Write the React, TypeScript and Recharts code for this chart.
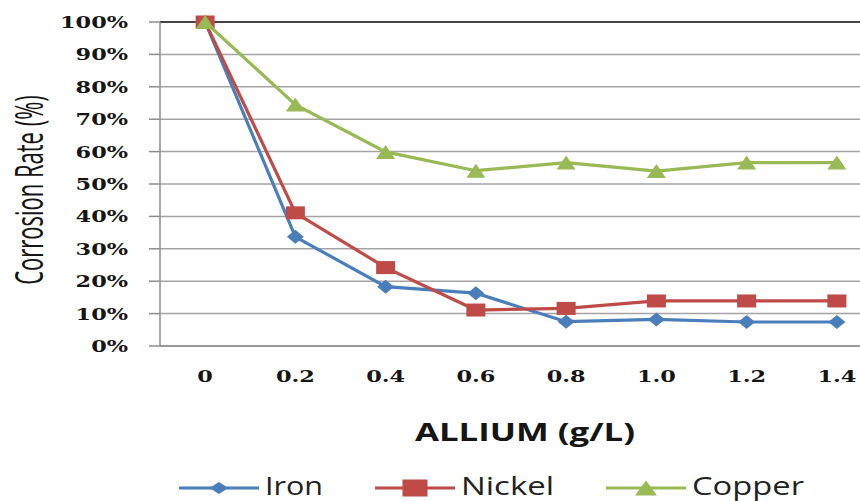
import React from "react";
import { LineChart, Line, XAxis, YAxis, CartesianGrid, Legend, ReferenceLine } from "recharts";

// allium concentration (g/L) and corrosion rate as a fraction of the blank
const concentrations = [0, 0.2, 0.4, 0.6, 0.8, 1.0, 1.2, 1.4];
const xTickLabels = ["0", "0.2", "0.4", "0.6", "0.8", "1.0", "1.2", "1.4"];
const ironRate = [1.0, 0.337, 0.183, 0.163, 0.075, 0.082, 0.074, 0.074];
const nickelRate = [1.0, 0.411, 0.242, 0.111, 0.116, 0.139, 0.139, 0.139];
const copperRate = [1.0, 0.745, 0.599, 0.541, 0.566, 0.54, 0.566, 0.566];
const yTicks = [0, 0.1, 0.2, 0.3, 0.4, 0.5, 0.6, 0.7, 0.8, 0.9, 1.0];
// tick marks sit between categories, like Excel
const betweenTicks = [0.1, 0.3, 0.5, 0.7, 0.9, 1.1, 1.3];

const BLUE = "#4a7ebb";
const RED = "#be4b48";
const GREEN = "#98b954";
const GRID = "#a3a3a3";
const TEXT = "#151515";

const data = concentrations.map((c, i) => ({
  c,
  iron: ironRate[i],
  nickel: nickelRate[i],
  copper: copperRate[i],
}));

type Shape = "diamond" | "square" | "triangle";

const marker = (shape: Shape, cx: number, cy: number, w: number, h: number, color: string, key?: string) => {
  if (shape === "square") {
    return <rect key={key} x={cx - w / 2} y={cy - h / 2} width={w} height={h} fill={color} />;
  }
  if (shape === "diamond") {
    const pts = `${cx},${cy - h / 2} ${cx + w / 2},${cy} ${cx},${cy + h / 2} ${cx - w / 2},${cy}`;
    return <polygon key={key} points={pts} fill={color} />;
  }
  const pts = `${cx},${cy - h / 2} ${cx + w / 2},${cy + h / 2} ${cx - w / 2},${cy + h / 2}`;
  return <polygon key={key} points={pts} fill={color} />;
};

const makeDot = (shape: Shape, color: string, w: number, h: number) => (props: any) => {
  const { cx, cy, index } = props;
  if (cx == null || cy == null) return <g key={`e-${shape}-${index}`} />;
  return marker(shape, cx, cy, w, h, color, `${shape}-${index}`);
};

const XTick = (props: any) => {
  const { x, y, payload } = props;
  const label = xTickLabels[concentrations.indexOf(payload.value)] ?? String(payload.value);
  return (
    <text
      transform={`translate(${x},${y}) scale(1.4,1)`}
      x={0}
      y={34}
      textAnchor="middle"
      fontFamily="'DejaVu Serif', serif"
      fontWeight="bold"
      fontSize={16}
      fill={TEXT}
    >
      {label}
    </text>
  );
};

const YTick = (props: any) => {
  const { x, y, payload } = props;
  return (
    <text
      transform={`translate(${x},${y}) scale(1.4,1)`}
      x={0}
      y={6}
      textAnchor="end"
      fontFamily="'DejaVu Serif', serif"
      fontWeight="bold"
      fontSize={16}
      fill={TEXT}
    >
      {`${Math.round(payload.value * 100)}%`}
    </text>
  );
};

// the source picture is stretched sideways, so the rotated title reads tall and narrow
const YTitle = (props: any) => {
  const { viewBox } = props;
  const cx = 43;
  const cy = viewBox.y + viewBox.height / 2 + 6;
  return (
    <text
      transform={`translate(${cx},${cy}) rotate(-90) scale(1,1.7)`}
      x={0}
      y={0}
      textAnchor="middle"
      fontFamily="'Open Sans', sans-serif"
      fontSize={22}
      fill={TEXT}
    >
      Corrosion Rate (%)
    </text>
  );
};

const XTitle = (props: any) => {
  const { viewBox } = props;
  return (
    <text
      x={viewBox.x + viewBox.width / 2 + 4}
      y={viewBox.y + 95}
      textAnchor="middle"
      fontFamily="'Open Sans', sans-serif"
      fontWeight="bold"
      fontSize={25}
      textLength={220}
      lengthAdjust="spacingAndGlyphs"
      fill={TEXT}
    >
      ALLIUM (g/L)
    </text>
  );
};

const legendItems: { name: string; color: string; shape: Shape; w: number; h: number; textLen: number }[] = [
  { name: "Iron", color: BLUE, shape: "diamond", w: 19, h: 12, textLen: 58 },
  { name: "Nickel", color: RED, shape: "square", w: 25, h: 17, textLen: 93 },
  { name: "Copper", color: GREEN, shape: "triangle", w: 22, h: 15, textLen: 112 },
];

const renderLegend = () => (
  <div style={{ display: "flex", justifyContent: "center", alignItems: "center", height: 40, paddingLeft: 100 }}>
    {legendItems.map((item, i) => (
      <svg
        key={item.name}
        width={86 + item.textLen}
        height={40}
        style={{ marginRight: i < legendItems.length - 1 ? 52 : 0, display: "block" }}
      >
        <line x1={0} y1={27} x2={80} y2={27} stroke={item.color} strokeWidth={3} />
        {marker(item.shape, 40, 27, item.w, item.h, item.color)}
        <text
          x={86}
          y={34}
          fontFamily="'Open Sans', sans-serif"
          fontSize={25}
          textLength={item.textLen}
          lengthAdjust="spacingAndGlyphs"
          fill="#222"
        >
          {item.name}
        </text>
      </svg>
    ))}
  </div>
);

export default function App() {
  return (
    <div style={{ position: "absolute", left: 0, top: 0, width: 860, height: 501, overflow: "hidden", background: "#fff" }}>
      <LineChart width={882} height={501} data={data} margin={{ top: 22, right: 0, left: 0, bottom: 0 }}>
        <CartesianGrid vertical={false} stroke={GRID} strokeWidth={1.5} />
        <XAxis
          xAxisId="between"
          dataKey="c"
          type="number"
          domain={[-0.1, 1.5]}
          ticks={betweenTicks}
          interval={0}
          height={0}
          axisLine={false}
          tickSize={7}
          tickLine={{ stroke: "#8c8c8c", strokeWidth: 1.5 }}
          tick={() => <g />}
        />
        <XAxis
          dataKey="c"
          type="number"
          domain={[-0.1, 1.5]}
          ticks={concentrations}
          interval={0}
          height={115}
          axisLine={{ stroke: "#8c8c8c", strokeWidth: 1.5 }}
          tickLine={false}
          tickSize={0}
          tick={<XTick />}
          label={{ content: XTitle }}
        />
        <YAxis
          domain={[0, 1]}
          ticks={yTicks}
          interval={0}
          width={160}
          axisLine={{ stroke: "#8c8c8c", strokeWidth: 1.5 }}
          tickLine={{ stroke: "#8c8c8c", strokeWidth: 1.5 }}
          tickSize={11}
          tickMargin={21}
          tick={<YTick />}
          label={{ content: YTitle }}
        />
        <ReferenceLine y={1} stroke="#1e1e1e" strokeWidth={1.5} />
        <Legend verticalAlign="bottom" height={40} content={renderLegend} />
        <Line
          dataKey="iron"
          name="Iron"
          stroke={BLUE}
          strokeWidth={3.2}
          dot={makeDot("diamond", BLUE, 17, 14)}
          activeDot={false}
          isAnimationActive={false}
        />
        <Line
          dataKey="nickel"
          name="Nickel"
          stroke={RED}
          strokeWidth={3.2}
          dot={makeDot("square", RED, 19, 13)}
          activeDot={false}
          isAnimationActive={false}
        />
        <Line
          dataKey="copper"
          name="Copper"
          stroke={GREEN}
          strokeWidth={3.2}
          dot={makeDot("triangle", GREEN, 19, 14)}
          activeDot={false}
          isAnimationActive={false}
        />
      </LineChart>
    </div>
  );
}
